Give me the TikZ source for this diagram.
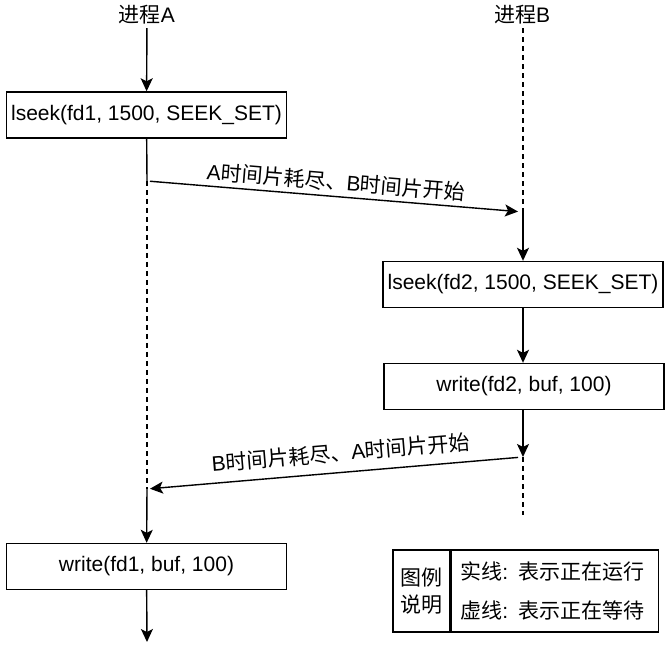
\documentclass[tikz,border=0pt]{standalone}
\usepackage{fontspec}
\setmainfont{Liberation Sans}
\newfontfamily\cjk{Noto Sans CJK SC}
\usetikzlibrary{arrows.meta}
\newcommand{\zh}[1]{{\cjk #1}}

\begin{document}
\begin{tikzpicture}[x=1pt, y=-1pt,
  font=\fontsize{21}{25}\selectfont,
  callbox/.style = {draw, line width=1.4pt, minimum width=280pt,
                    minimum height=46pt, inner sep=0pt},
  run/.style     = {line width=1.4pt},
  wait/.style    = {line width=1.3pt, dash pattern=on 5pt off 4pt},
  flow/.style    = {run, -{Stealth[length=13pt, width=12pt, inset=3pt]}}]

\useasboundingbox (0,0) rectangle (670,647);

% process titles
\node (procA) at (147,15) {\zh{进程}A};
\node (procB) at (522,15) {\zh{进程}B};

% call boxes
\node [callbox] (seekA)  at (146.5,115)   {lseek(fd1, 1500, SEEK\_SET)};
\node [callbox] (seekB)  at (523,284.5)   {lseek(fd2, 1500, SEEK\_SET)};
\node [callbox] (writeB) at (524,386.5)   {write(fd2, buf, 100)};
\node [callbox] (writeA) at (146.5,566.5) {write(fd1, buf, 100)};

% points where a process stops or starts running
\coordinate (a1) at (147,181);
\coordinate (a2) at (147,489);
\coordinate (aEnd) at (147,642);
\coordinate (b1) at (523,212);
\coordinate (b2) at (523,457);
\coordinate (bEnd) at (523,515);

% process A
\draw [flow] (procA) -- (seekA);
\draw [run] (seekA) -- (a1);
\draw [wait] (a1) -- (a2);
\draw [flow] (a2) -- (writeA);
\draw [flow] (writeA) -- (aEnd);

% process B
\draw [wait] (procB.south -| b1) -- (b1);
\draw [flow] (b1) -- (seekB);
\draw [flow] (seekB.south -| b1) -- (writeB.north -| b1);
\draw [flow] (writeB.south -| b1) -- (b2);
\draw [wait] (b2) -- (bEnd);

% switches between the two
\draw [flow, shorten <=3pt, shorten >=5pt] (a1) -- (b1)
  node [midway, above=1pt, sloped] (swAB) {A\zh{时间片耗尽、}B\zh{时间片开始}};
\draw [flow, shorten <=5pt, shorten >=3pt] (b2) -- (a2)
  node [pos=0.48, above=6pt, sloped] (swBA) {B\zh{时间片耗尽、}A\zh{时间片开始}};

% legend
\node [draw, line width=1.4pt, minimum width=57pt, minimum height=82pt,
       inner sep=0pt, align=center] (legL) at (421.5,591)
  {\zh{图例}\\[2pt]\zh{说明}};
\node [draw, line width=1.4pt, minimum height=82pt, inner xsep=9pt,
       text width=189pt, align=left, anchor=west] (legR) at (legL.east)
  {\zh{实线}: \zh{表示正在运行}\\[14pt]\zh{虚线}: \zh{表示正在等待}};

\end{tikzpicture}
\end{document}
